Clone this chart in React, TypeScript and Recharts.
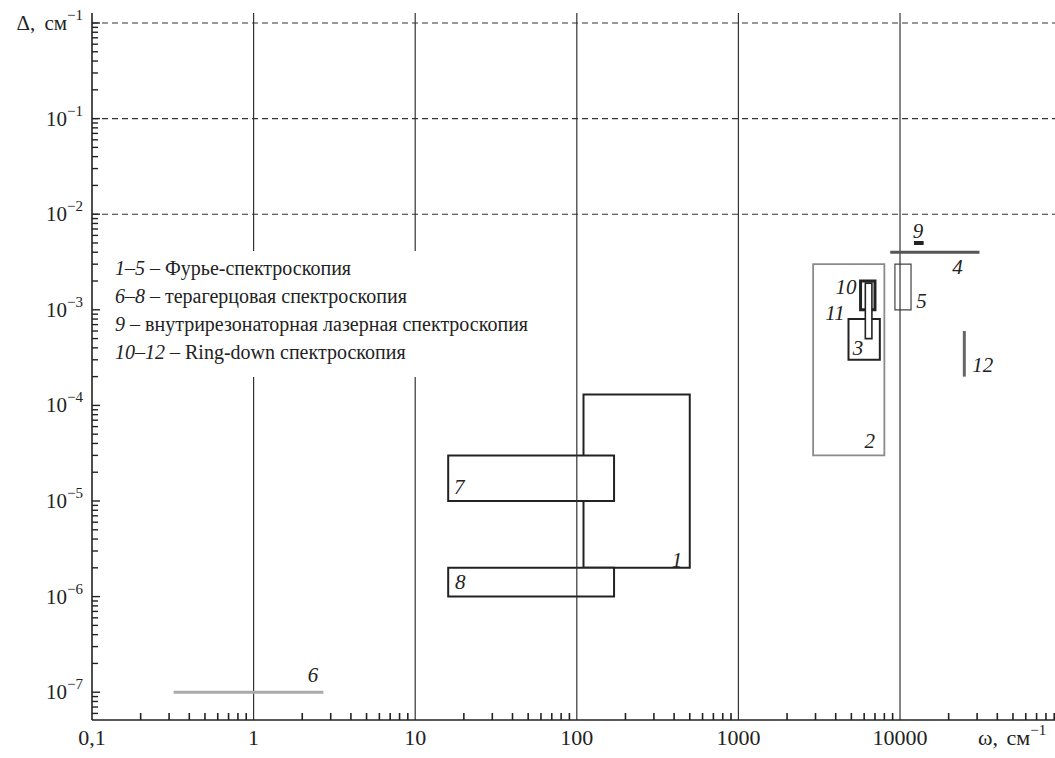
import React from "react";
import {
  ComposedChart,
  XAxis,
  YAxis,
  ReferenceArea,
  ReferenceLine,
  Scatter,
} from "recharts";

const FONT = '"Liberation Serif", "DejaVu Serif", serif';
const INK = "#222";

// rectangles: omega range (cm^-1) x delta range (cm^-1)
const boxIds = ["1", "7", "8", "2", "3", "10", "11", "5"];
const boxOmegaFrom = [110, 16, 16, 2900, 4800, 5700, 6100, 9300];
const boxOmegaTo = [500, 170, 170, 8000, 7500, 7000, 6700, 11700];
const boxDeltaFrom = [2e-6, 1e-5, 1e-6, 3e-5, 3e-4, 1e-3, 5e-4, 1e-3];
const boxDeltaTo = [1.3e-4, 3e-5, 2e-6, 3e-3, 8e-4, 2e-3, 1.9e-3, 3e-3];

// single segments
const lineIds = ["6", "4", "9", "12"];
const lineOmegaFrom = [0.32, 8700, 12200, 25000];
const lineOmegaTo = [2.7, 31000, 14000, 25000];
const lineDeltaFrom = [1e-7, 4e-3, 5e-3, 2e-4];
const lineDeltaTo = [1e-7, 4e-3, 5e-3, 6e-4];

// number labels next to the marks
const labelIds = ["1", "2", "3", "4", "5", "6", "7", "8", "9", "10", "11", "12"];
const labelOmega = [417, 6500, 5500, 22700, 13600, 2.33, 18.7, 19, 12900, 4630, 3960, 32500];
const labelDelta = [2.4e-6, 4.2e-5, 4e-4, 2.8e-3, 1.25e-3, 1.5e-7, 1.4e-5, 1.42e-6, 6.6e-3, 1.72e-3, 9.2e-4, 2.65e-4];

const xMajor = [0.1, 1, 10, 100, 1000, 10000];
const xMajorLabels = ["0,1", "1", "10", "100", "1000", "10000"];
const yMajor = [1, 0.1, 0.01, 1e-3, 1e-4, 1e-5, 1e-6, 1e-7];
const yMajorExp = ["0", "−1", "−2", "−3", "−4", "−5", "−6", "−7"];
const xGrid = [1, 10, 100, 1000, 10000];
const yGrid = [1, 0.1, 0.01];

const X_DOMAIN = [0.1, 91000];
const Y_DOMAIN = [5.12e-8, 1.272];

const legendRows = [
  ["1–5", "Фурье-спектроскопия"],
  ["6–8", "терагерцовая спектроскопия"],
  ["9", "внутрирезонаторная лазерная спектроскопия"],
  ["10–12", "Ring-down спектроскопия"],
];

const boxStyle: Record<string, { stroke: string; width: number; fill: string }> = {
  "1": { stroke: INK, width: 2, fill: "none" },
  "7": { stroke: INK, width: 2, fill: "#fff" },
  "8": { stroke: INK, width: 2, fill: "#fff" },
  "2": { stroke: "#8a8a8a", width: 1.8, fill: "none" },
  "3": { stroke: INK, width: 2, fill: "none" },
  "10": { stroke: INK, width: 3, fill: "none" },
  "11": { stroke: INK, width: 1.6, fill: "#fff" },
  "5": { stroke: "#444", width: 1.2, fill: "none" },
};

const lineStyle: Record<string, { stroke: string; width: number }> = {
  "6": { stroke: "#aaa", width: 3 },
  "4": { stroke: "#555", width: 3 },
  "9": { stroke: INK, width: 4 },
  "12": { stroke: "#666", width: 3 },
};

function minorTicks(majors: number[], lo: number, hi: number) {
  const out: number[] = [];
  const bases = [...majors, Math.min(...majors) / 10];
  bases.forEach((b) => {
    for (let k = 2; k <= 9; k++) {
      const v = b * k;
      if (v > lo && v < hi) out.push(v);
    }
  });
  return out;
}

const xTicks = [...xMajor, ...minorTicks(xMajor, X_DOMAIN[0], X_DOMAIN[1])];
const yTicks = [...yMajor, ...minorTicks(yMajor, Y_DOMAIN[0], Y_DOMAIN[1])];

function XTick(props: any) {
  const { x, y, payload } = props;
  const i = xMajor.indexOf(payload.value);
  if (i < 0) {
    return <line x1={x} x2={x} y1={y} y2={y - 7} stroke="#222" strokeWidth={1.6} />;
  }
  return (
    <text x={x} y={y + 25} textAnchor="middle" fontSize={22} fontFamily={FONT} fill={INK}>
      {xMajorLabels[i]}
    </text>
  );
}

function YTick(props: any) {
  const { x, y, payload } = props;
  const i = yMajor.indexOf(payload.value);
  if (i < 0) {
    return <line x1={x} x2={x + 6} y1={y} y2={y} stroke="#222" strokeWidth={1.4} />;
  }
  return (
    <g>
      <line x1={x} x2={x + 8} y1={y} y2={y} stroke="#222" strokeWidth={1.4} />
      <text
        x={x - 9}
        y={y + 7}
        textAnchor="end"
        fontSize={21}
        fontFamily={FONT}
        fill={INK}
        wordSpacing={i === 0 ? 4 : 0}
      >
        <tspan>{i === 0 ? "Δ, см" : "10"}</tspan>
        <tspan dy={-10} fontSize={15}>
          {i === 0 ? "−1" : yMajorExp[i]}
        </tspan>
      </text>
    </g>
  );
}

const labelData = labelIds.map((id, i) => ({ x: labelOmega[i], y: labelDelta[i], id }));

export default function App() {
  return (
    <div
      style={{
        position: "absolute",
        left: 0,
        top: 0,
        width: 1055,
        height: 758,
        overflow: "hidden",
        background: "#fff",
      }}
    >
      <ComposedChart width={1055} height={758} margin={{ top: 13, right: 0, bottom: 0, left: 0 }}>
        {boxIds.map((id, i) => (
          <ReferenceArea
            key={"b" + id}
            x1={boxOmegaFrom[i]}
            x2={boxOmegaTo[i]}
            y1={boxDeltaFrom[i]}
            y2={boxDeltaTo[i]}
            fill={boxStyle[id].fill}
            fillOpacity={1}
            stroke={boxStyle[id].stroke}
            strokeWidth={boxStyle[id].width}
            ifOverflow="visible"
          />
        ))}
        {xGrid.map((v) => (
          <ReferenceLine key={"gx" + v} x={v} stroke="#333" strokeWidth={1.2} ifOverflow="visible" />
        ))}
        {yGrid.map((v) => (
          <ReferenceLine
            key={"gy" + v}
            y={v}
            stroke="#333"
            strokeWidth={1.1}
            strokeDasharray="6 4"
            ifOverflow="visible"
          />
        ))}
        {lineIds.map((id, i) => (
          <ReferenceLine
            key={"l" + id}
            segment={[
              { x: lineOmegaFrom[i], y: lineDeltaFrom[i] },
              { x: lineOmegaTo[i], y: lineDeltaTo[i] },
            ]}
            stroke={lineStyle[id].stroke}
            strokeWidth={lineStyle[id].width}
            ifOverflow="visible"
          />
        ))}
        <Scatter
          data={labelData}
          isAnimationActive={false}
          shape={(p: any) => (
            <text
              x={p.cx}
              y={p.cy}
              textAnchor="middle"
              dominantBaseline="central"
              fontSize={21}
              fontStyle="italic"
              fontFamily={FONT}
              fill={INK}
            >
              {p.payload.id}
            </text>
          )}
        />
        <XAxis
          type="number"
          dataKey="x"
          scale="log"
          domain={X_DOMAIN}
          allowDataOverflow
          ticks={xTicks}
          interval={0}
          tickSize={0}
          tickMargin={0}
          tickLine={false}
          tick={XTick}
          height={38}
          axisLine={{ stroke: "#222", strokeWidth: 1.6 }}
          label={{
            content: (p: any) => (
              <text
                x={p.viewBox.x + p.viewBox.width - 77}
                y={p.viewBox.y + 25}
                fontSize={22}
                fontFamily={FONT}
                fill={INK}
                wordSpacing={3}
              >
                <tspan>ω, см</tspan>
                <tspan dy={-10} fontSize={15}>
                  −1
                </tspan>
              </text>
            ),
          }}
        />
        <YAxis
          type="number"
          dataKey="y"
          scale="log"
          domain={Y_DOMAIN}
          allowDataOverflow
          ticks={yTicks}
          interval={0}
          tickSize={0}
          tickMargin={0}
          tickLine={false}
          tick={YTick}
          width={92}
          axisLine={{ stroke: "#222", strokeWidth: 1.6 }}
        />
      </ComposedChart>
      <div
        style={{
          position: "absolute",
          left: 102,
          top: 251,
          width: 440,
          height: 126,
          background: "#fff",
          boxSizing: "border-box",
          padding: "3px 0 0 13px",
          fontFamily: FONT,
          fontSize: 20,
          lineHeight: "28px",
          color: INK,
          whiteSpace: "nowrap",
        }}
      >
        {legendRows.map((r) => (
          <div key={r[0]}>
            <i>{r[0]}</i> – {r[1]}
          </div>
        ))}
      </div>
    </div>
  );
}
